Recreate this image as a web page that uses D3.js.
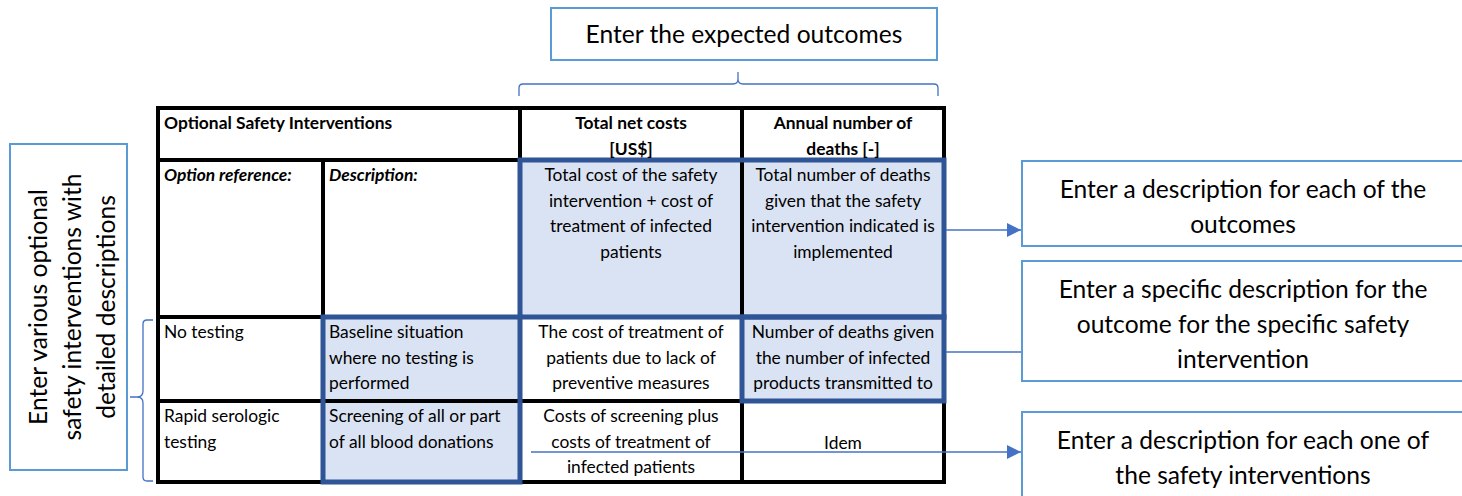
<!DOCTYPE html>
<html><head><meta charset="utf-8">
<script src="https://cdn.jsdelivr.net/npm/d3@7"></script>
<style>html,body{margin:0;padding:0;background:#fff;}svg{display:block;}</style>
</head><body>
<svg id="c" width="1462" height="496"></svg>
<script>
// ---- content ----
const headerTitle = ["Optional Safety Interventions"];
const columnHeaders = [["Total net costs", "[US$]"], ["Annual number of", "deaths [-]"]];
const subHeaders = ["Option reference:", "Description:"];
const outcomeDescriptions = [
  ["Total cost of the safety", "intervention + cost of", "treatment of infected", "patients"],
  ["Total number of deaths", "given that the safety", "intervention indicated is", "implemented"]
];
const optionNames = [["No testing"], ["Rapid serologic", "testing"]];
const optionDescriptions = [["Baseline situation", "where no testing is", "performed"], ["Screening of all or part", "of all blood donations"]];
const optionCosts = [["The cost of treatment of", "patients due to lack of", "preventive measures"], ["Costs of screening plus", "costs of treatment of", "infected patients"]];
const optionDeaths = [["Number of deaths given", "the number of infected", "products transmitted to"], ["Idem"]];
const topCallout = ["Enter the expected outcomes"];
const leftCallout = ["Enter various optional", "safety interventions with", "detailed descriptions"];
const rightCallouts = [
  ["Enter a description for each of the", "outcomes"],
  ["Enter a specific description for the", "outcome for the specific safety", "intervention"],
  ["Enter a description for each one of", "the safety interventions"]
];

// ---- layout ----
const svg = d3.select("#c");
const FONT = "Lato, 'Open Sans', sans-serif";
const TS = 17.4, CS = 24.6;
const x = d3.scaleOrdinal().domain([0,1,2,3,4]).range([158, 323, 520, 742, 944]);
const y = d3.scaleOrdinal().domain([0,1,2,3,4]).range([108, 160, 317, 401, 482]);
const lightBlue = "#dae3f3", darkBlue = "#2f5597", calloutBlue = "#5b9bd5", lineBlue = "#4472c4";

function textBlock(g, lines, px, py, anchor, opts) {
  opts = opts || {};
  const t = g.append("text")
    .attr("font-family", FONT)
    .attr("font-size", opts.size || TS)
    .attr("font-weight", opts.bold ? "bold" : "normal")
    .attr("font-style", opts.italic ? "italic" : "normal")
    .attr("text-anchor", anchor)
    .attr("fill", "#000");
  lines.forEach((l, i) => {
    t.append("tspan").attr("x", px).attr("y", py + i * (opts.lh || 25.5)).text(l);
  });
  return t;
}

// shaded cells
const shaded = [
  {c0:2, c1:4, r0:1, r1:2},
  {c0:3, c1:4, r0:2, r1:3},
  {c0:1, c1:2, r0:2, r1:4}
];
svg.selectAll("rect.fill").data(shaded).join("rect").attr("class","fill")
  .attr("x", d => x(d.c0)).attr("y", d => y(d.r0))
  .attr("width", d => x(d.c1) - x(d.c0)).attr("height", d => y(d.r1) - y(d.r0))
  .attr("fill", lightBlue);

// black grid
const grid = svg.append("g").attr("stroke", "#000").attr("stroke-width", 4).attr("fill", "none");
grid.append("rect").attr("x", x(0)).attr("y", y(0)).attr("width", x(4)-x(0)).attr("height", y(4)-y(0));
[1,2,3].forEach(r => grid.append("line").attr("x1", x(0)).attr("x2", x(4)).attr("y1", y(r)).attr("y2", y(r)));
grid.append("line").attr("x1", x(1)).attr("x2", x(1)).attr("y1", y(1)).attr("y2", y(4));
[2,3].forEach(c => grid.append("line").attr("x1", x(c)).attr("x2", x(c)).attr("y1", y(0)).attr("y2", y(4)));

// blue highlight borders
svg.selectAll("rect.hl").data(shaded).join("rect").attr("class","hl")
  .attr("x", d => x(d.c0)).attr("y", d => y(d.r0))
  .attr("width", d => x(d.c1) - x(d.c0)).attr("height", d => y(d.r1) - y(d.r0))
  .attr("fill", "none").attr("stroke", darkBlue).attr("stroke-width", 5);

// table texts
const tg = svg.append("g");
textBlock(tg, headerTitle, x(0) + 6, y(0) + 21, "start", {bold:true});
columnHeaders.forEach((h, i) => textBlock(tg, h, (x(2+i) + x(3+i)) / 2, y(0) + 21, "middle", {bold:true}));
subHeaders.forEach((h, i) => textBlock(tg, [h], x(i) + 6, y(1) + 21, "start", {bold:true, italic:true}));
outcomeDescriptions.forEach((d, i) => textBlock(tg, d, (x(2+i) + x(3+i)) / 2, y(1) + 21, "middle"));
optionNames.forEach((d, r) => textBlock(tg, d, x(0) + 6, y(2+r) + 21, "start"));
optionDescriptions.forEach((d, r) => textBlock(tg, d, x(1) + 6, y(2+r) + 21, "start"));
optionCosts.forEach((d, r) => textBlock(tg, d, (x(2) + x(3)) / 2, y(2+r) + 21, "middle"));
optionDeaths.forEach((d, r) => {
  const top = d.length === 1 ? (y(2+r) + y(3+r)) / 2 + 7 : y(2+r) + 21;
  textBlock(tg, d, (x(3) + x(4)) / 2, top, "middle");
});

// callout boxes
const cg = svg.append("g");
function callout(bx, by, bw, bh) {
  cg.append("rect").attr("x", bx).attr("y", by).attr("width", bw).attr("height", bh)
    .attr("fill", "#fff").attr("stroke", calloutBlue).attr("stroke-width", 2);
}
callout(551, 8, 386, 52);
textBlock(cg, topCallout, 744, 43, "middle", {size:CS});

callout(10, 144, 117, 326);
leftCallout.forEach((l, i) => {
  cg.append("text").attr("font-family", FONT).attr("font-size", CS).attr("text-anchor", "middle")
    .attr("transform", `translate(${47 + i * 34},307) rotate(-90)`).text(l);
});

const rightBoxes = [{y0:161, y1:246}, {y0:261, y1:381}, {y0:412, y1:500}];
rightBoxes.forEach((b, i) => {
  callout(1022, b.y0, 460, b.y1 - b.y0);
  textBlock(cg, rightCallouts[i], 1243, b.y0 + 37, "middle", {size:CS, lh:35});
});

// braces
const bg = svg.append("g").attr("fill", "none").attr("stroke", lineBlue).attr("stroke-width", 1.3);
bg.append("path").attr("d", "M519,96 L519,88 Q519,84 523,84 L733,84 Q738,84 738,79 L738,72 M738,79 Q738,84 743,84 L934,84 Q938,84 938,88 L938,96");
bg.append("path").attr("d", "M153,320 L147,320 Q143,320 143,324 L143,391 Q143,397 137,397 L130,397 M137,397 Q143,397 143,403 L143,477 Q143,481 147,481 L153,481");

// arrows
const defs = svg.append("defs");
defs.append("marker").attr("id", "ah").attr("viewBox", "0 0 10 10").attr("refX", 10).attr("refY", 5)
  .attr("markerWidth", 15).attr("markerHeight", 14).attr("markerUnits", "userSpaceOnUse").attr("orient", "auto")
  .append("path").attr("d", "M0,0 L10,5 L0,10 Z").attr("fill", lineBlue);
const ag = svg.append("g").attr("stroke", lineBlue).attr("stroke-width", 1.3);
ag.append("line").attr("x1", 946).attr("x2", 1021).attr("y1", 230).attr("y2", 230).attr("marker-end", "url(#ah)");
ag.append("line").attr("x1", 946).attr("x2", 1021).attr("y1", 352).attr("y2", 352);
ag.append("line").attr("x1", 531).attr("x2", 1021).attr("y1", 452).attr("y2", 452).attr("marker-end", "url(#ah)");
</script>
</body></html>
